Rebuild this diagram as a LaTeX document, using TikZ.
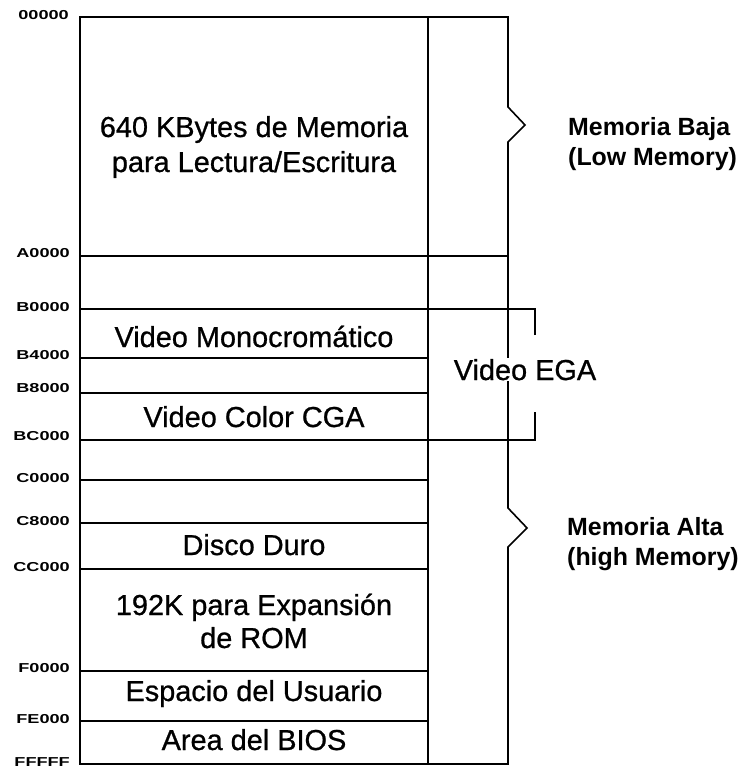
\documentclass[tikz,border=0pt]{standalone}
\usepackage{fontspec}
\setmainfont{Liberation Sans}
\newfontfamily\heavyfont[FakeBold=0.8]{Liberation Sans}
\begin{document}
\begin{tikzpicture}[x=1bp,y=-1bp,
  mem/.style={line width=1.6bp,line join=miter},
  addr/.style={anchor=east,font=\fontsize{13}{13}\selectfont\bfseries,inner sep=0pt},
  region/.style={anchor=base,font=\heavyfont\fontsize{29}{34}\selectfont,inner sep=0pt},
  side/.style={anchor=base west,font=\fontsize{25}{25}\selectfont\bfseries,inner sep=0pt}]
\useasboundingbox (0,0) rectangle (748,773);

% outline with brace notches
\draw[mem] (80,17) -- (508,17) -- (508,107) -- (525,125) -- (508,142)
  -- (508,508) -- (527,528) -- (508,547) -- (508,764) -- (80,764) -- cycle;
\draw[mem] (428,17) -- (428,764);
% full-width boundaries
\draw[mem] (80,256) -- (508,256);
\draw[mem] (535,335) -- (535,309) -- (80,309);
\draw[mem] (535,412) -- (535,440) -- (80,440);
% left-column boundaries
\foreach \yy in {358,393,480,523,569,671,721}
  \draw[mem] (80,\yy) -- (428,\yy);

% addresses
\node[addr] (l0) at (69,15) {\scalebox{1.4}[1]{00000}};
\node[addr] (l1) at (70,253) {\scalebox{1.4}[1]{A0000}};
\node[addr] (l2) at (70,307) {\scalebox{1.4}[1]{B0000}};
\node[addr] (l3) at (70,355) {\scalebox{1.4}[1]{B4000}};
\node[addr] (l4) at (70,388) {\scalebox{1.4}[1]{B8000}};
\node[addr] (l5) at (70,436) {\scalebox{1.4}[1]{BC000}};
\node[addr] (l6) at (70,478) {\scalebox{1.4}[1]{C0000}};
\node[addr] (l7) at (70,521) {\scalebox{1.4}[1]{C8000}};
\node[addr] (l8) at (70,567) {\scalebox{1.4}[1]{CC000}};
\node[addr] (l9) at (70,668) {\scalebox{1.4}[1]{F0000}};
\node[addr] (l10) at (70,719) {\scalebox{1.4}[1]{FE000}};
\node[addr] (l11) at (70,762) {\scalebox{1.4}[1]{FFFFF}};

% region texts
\node[region] (r1a) at (254,137) {640 KBytes de Memoria};
\node[region] (r1b) at (254,172) {para Lectura/Escritura};
\node[region] (r2) at (254,347) {Video Monocromático};
\node[region] (r3) at (254,427) {Video Color CGA};
\node[region] (r4) at (254,555) {Disco Duro};
\node[region] (r5a) at (254,615) {192K para Expansión};
\node[region] (r5b) at (254,648) {de ROM};
\node[region] (r6) at (254,701) {Espacio del Usuario};
\node[region] (r7) at (254,750) {Area del BIOS};
\node[region,fill=white,inner sep=1bp] (ega) at (525,380) {Video EGA};

% side labels
\node[side] (s1) at (568,135) {Memoria Baja};
\node[side] (s2) at (568,165) {(Low Memory)};
\node[side] (s3) at (567,535) {Memoria Alta};
\node[side] (s4) at (567,565) {(high Memory)};
\end{tikzpicture}
\end{document}
